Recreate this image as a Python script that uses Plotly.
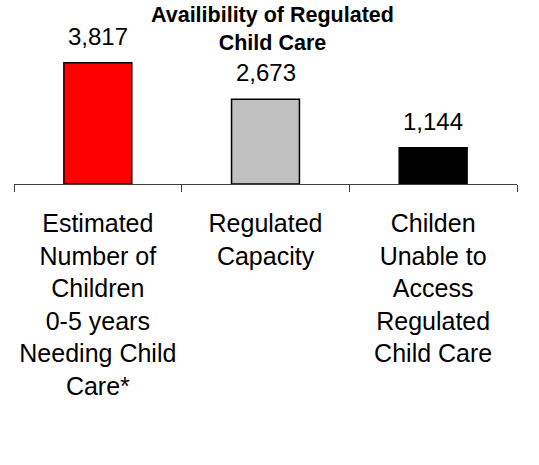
import plotly.graph_objects as go

categories = [
    "Estimated<br>Number of<br>Children<br>0-5 years<br>Needing Child<br>Care*",
    "Regulated<br>Capacity",
    "Childen<br>Unable to<br>Access<br>Regulated<br>Child Care",
]
values = [3817, 2673, 1144]
value_labels = ["3,817", "2,673", "1,144"]
bar_colors = ["#FF0000", "#C0C0C0", "#000000"]
title_text = "<b>Availibility of Regulated<br>Child Care</b>"

FONT = "Liberation Sans, Arial, sans-serif"

W, H = 539, 465
ML, MT, PW, PH = 14, 57, 503, 127

fig = go.Figure()
fig.add_trace(go.Bar(
    x=categories,
    y=values,
    marker=dict(color=bar_colors, line=dict(color="#000000", width=1.5)),
    width=0.405,
    hoverinfo="skip",
))

for c, v, t in zip(categories, values, value_labels):
    fig.add_annotation(
        x=c, y=v, xref="x", yref="y", text=t, showarrow=False,
        yanchor="bottom", yshift=11,
        font=dict(family=FONT, size=24, color="#000000"),
    )

fig.add_annotation(
    xref="paper", yref="paper",
    x=(272 - ML) / PW,
    y=1 + (MT - 29) / PH,
    xanchor="center", yanchor="middle",
    text=title_text, showarrow=False,
    font=dict(family=FONT, size=21.5, color="#000000"),
)

fig.update_layout(
    width=W, height=H,
    margin=dict(l=ML, r=W - ML - PW, t=MT, b=H - MT - PH),
    paper_bgcolor="#FFFFFF",
    plot_bgcolor="#FFFFFF",
    showlegend=False,
    font=dict(family=FONT, size=25, color="#000000"),
    xaxis=dict(
        showline=True, linecolor="#404040", linewidth=1,
        ticks="outside", ticklen=7, tickcolor="#404040", tickwidth=1,
        tickson="boundaries",
        tickfont=dict(family=FONT, size=25, color="#000000"),
        ticklabelstandoff=17,
        showgrid=False, zeroline=False,
        fixedrange=True,
    ),
    yaxis=dict(
        range=[0, 4000], visible=False, showgrid=False, zeroline=False,
        fixedrange=True,
    ),
)

fig.write_html(
    "out.html",
    config={"displayModeBar": False},
    post_script="document.body.style.margin='0';",
)
